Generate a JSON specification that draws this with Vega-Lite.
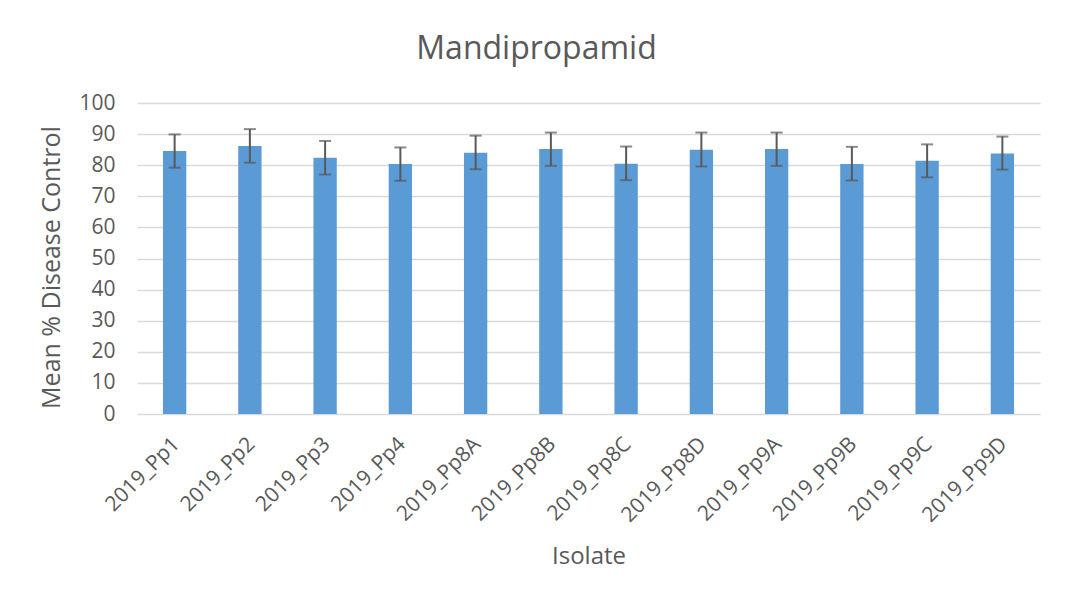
{
  "$schema": "https://vega.github.io/schema/vega-lite/v6.json",
  "autosize": {"type": "none"},
  "width": 903,
  "height": 311,
  "padding": {"left": 137, "top": 103, "right": 29, "bottom": 191},
  "background": "white",
  "config": {
    "font": "Open Sans",
    "view": {"stroke": null},
    "axisY": {
      "tickCount": 11,
      "labelOverlap": false,
      "labelFont": "Open Sans",
      "labelFontSize": 21,
      "labelColor": "#595959",
      "labelPadding": 22,
      "ticks": false,
      "domain": false,
      "grid": true,
      "gridColor": "#d9d9d9",
      "gridWidth": 1.5,
      "titleFont": "Open Sans",
      "titleFontSize": 25,
      "titleFontWeight": "normal",
      "titleColor": "#595959",
      "titlePadding": 14,
      "titleY": 164
    }
  },
  "title": {
    "text": "Mandipropamid",
    "font": "Open Sans",
    "fontSize": 32,
    "fontWeight": "normal",
    "color": "#595959",
    "anchor": "middle",
    "dx": -52,
    "offset": 26
  },
  "data": {
    "values": [
      {"isolate": "2019_Pp1", "mean": 84.6, "lo": 79.2, "hi": 89.9},
      {"isolate": "2019_Pp2", "mean": 86.2, "lo": 80.8, "hi": 91.6},
      {"isolate": "2019_Pp3", "mean": 82.4, "lo": 77.0, "hi": 87.8},
      {"isolate": "2019_Pp4", "mean": 80.4, "lo": 75.0, "hi": 85.7},
      {"isolate": "2019_Pp8A", "mean": 84.0, "lo": 78.7, "hi": 89.5},
      {"isolate": "2019_Pp8B", "mean": 85.2, "lo": 79.8, "hi": 90.5},
      {"isolate": "2019_Pp8C", "mean": 80.5, "lo": 75.2, "hi": 86.0},
      {"isolate": "2019_Pp8D", "mean": 85.0, "lo": 79.6, "hi": 90.5},
      {"isolate": "2019_Pp9A", "mean": 85.2, "lo": 79.8, "hi": 90.5},
      {"isolate": "2019_Pp9B", "mean": 80.4, "lo": 75.1, "hi": 85.9},
      {"isolate": "2019_Pp9C", "mean": 81.4, "lo": 76.1, "hi": 86.7},
      {"isolate": "2019_Pp9D", "mean": 83.8, "lo": 78.6, "hi": 89.2}
    ]
  },
  "encoding": {
    "x": {
      "field": "isolate",
      "type": "nominal",
      "sort": null,
      "scale": {"paddingInner": 0.69, "paddingOuter": 0.345},
      "axis": {
        "title": "Isolate",
        "titleFont": "Open Sans",
        "titleFontSize": 24,
        "titleFontWeight": "normal",
        "titleColor": "#595959",
        "titlePadding": 19,
        "labelAngle": -45,
        "labelAlign": "right",
        "labelBaseline": "top",
        "labelFont": "Open Sans",
        "labelFontSize": 21,
        "labelColor": "#595959",
        "labelPadding": 19,
        "labelOffset": -6,
        "labelOverlap": false,
        "ticks": false,
        "domain": false,
        "grid": false
      }
    }
  },
  "layer": [
    {
      "mark": {"type": "bar", "color": "#5B9BD5"},
      "encoding": {
        "y": {
          "field": "mean",
          "type": "quantitative",
          "scale": {"domain": [0, 100], "nice": false},
          "axis": {"title": "Mean % Disease Control"}
        }
      }
    },
    {
      "mark": {"type": "rule", "color": "#595959", "strokeWidth": 2},
      "encoding": {
        "y": {"field": "lo", "type": "quantitative"},
        "y2": {"field": "hi"}
      }
    },
    {
      "mark": {"type": "tick", "color": "#595959", "thickness": 2, "size": 12, "orient": "horizontal"},
      "encoding": {
        "y": {"field": "lo", "type": "quantitative"}
      }
    },
    {
      "mark": {"type": "tick", "color": "#595959", "thickness": 2, "size": 12, "orient": "horizontal"},
      "encoding": {
        "y": {"field": "hi", "type": "quantitative"}
      }
    }
  ]
}
